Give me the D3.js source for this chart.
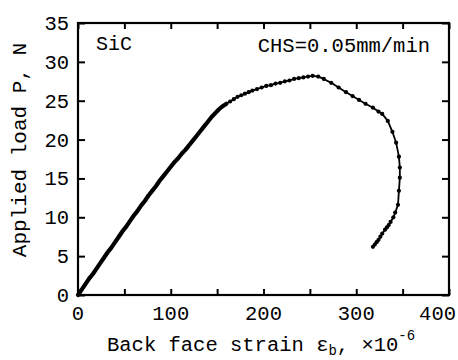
<html>
<head>
  <style>
    body { margin: 0; background: #fff; }
    svg text { font-family: "Liberation Mono", "Courier New", monospace; fill: #000; }
    svg .frame { fill: none; stroke: #000; stroke-width: 2.2px; }
    svg .tick line { stroke: #000; stroke-width: 2px; }
    svg .curve { fill: none; stroke: #000; stroke-width: 1.8px; stroke-linejoin: round; }
    svg .dense { fill: none; stroke: #000; stroke-width: 4.2px; stroke-linejoin: round; stroke-linecap: round; }
  </style>
</head>
<body>
  <div id="chart"></div>
  <script src="https://d3js.org/d3.v7.min.js"></script>
  <script>
    // load vs back face strain, SiC, CHS=0.05mm/min
    var strain = [0, 4, 8, 12, 16, 20, 24, 28, 32, 36, 40, 44, 48, 52, 56, 60, 64, 68, 72, 76,
      80, 84, 88, 92, 96, 100, 104, 108, 112, 116, 120, 124, 128, 132, 136, 140, 144, 148, 152, 156,
      160, 164, 168, 172, 176, 180, 184, 188, 193, 198, 203, 208, 213, 218, 223, 228, 233, 238, 243, 248,
      253, 259, 265, 273, 281, 289, 296, 303, 310, 318, 324, 328, 334, 339, 343, 346, 347, 347,
      346, 345, 342, 340, 337, 335, 333, 331, 328, 326, 324, 322, 320, 318];
    var load = [0, 0.7, 1.4, 2.1, 2.7, 3.4, 4.1, 4.8, 5.5, 6.1, 6.8, 7.5, 8.2, 8.8, 9.5, 10.2, 10.8, 11.5, 12.1, 12.8,
      13.4, 14.0, 14.7, 15.3, 15.9, 16.5, 17.1, 17.6, 18.2, 18.7, 19.3, 19.9, 20.5, 21.1, 21.7, 22.3, 22.9, 23.4, 23.9, 24.3,
      24.6, 24.9, 25.2, 25.5, 25.7, 25.9, 26.1, 26.3, 26.5, 26.7, 26.9, 27.0, 27.2, 27.3, 27.5, 27.6, 27.8, 27.9, 28.0, 28.1,
      28.2, 28.1, 27.8, 27.3, 26.7, 26.1, 25.6, 25.1, 24.6, 24.1, 23.6, 23.3, 22.4, 21.0, 19.6, 17.8, 16.4, 15.1,
      13.4, 11.6, 10.6, 10.0, 9.4, 9.0, 8.7, 8.4, 7.9, 7.5, 7.1, 6.8, 6.5, 6.2];

    var xTicks = [0, 100, 200, 300, 400];
    var xMinor = [0, 50, 100, 150, 200, 250, 300, 350, 400];
    var yTicks = [0, 5, 10, 15, 20, 25, 30, 35];

    var margin = { top: 23, left: 78 },
      width = 371,
      height = 272;

    var svg = d3.select("#chart").append("svg")
        .attr("width", 458)
        .attr("height", 360)
      .append("g")
        .attr("transform", "translate(" + margin.left + "," + margin.top + ")");

    var x = d3.scaleLinear().domain([0, 400]).range([0, width]);
    var y = d3.scaleLinear().domain([0, 35]).range([height, 0]);

    // inward ticks on all four sides
    svg.append("g").attr("transform", "translate(0," + height + ")")
      .call(d3.axisTop(x).tickValues(xMinor).tickSize(6).tickFormat(""))
      .call(function (g) { g.select(".domain").remove(); });
    svg.append("g")
      .call(d3.axisBottom(x).tickValues(xMinor).tickSize(6).tickFormat(""))
      .call(function (g) { g.select(".domain").remove(); });
    svg.append("g")
      .call(d3.axisRight(y).tickValues(yTicks).tickSize(7).tickFormat(""))
      .call(function (g) { g.select(".domain").remove(); });
    svg.append("g").attr("transform", "translate(" + width + ",0)")
      .call(d3.axisLeft(y).tickValues(yTicks).tickSize(7).tickFormat(""))
      .call(function (g) { g.select(".domain").remove(); });

    svg.append("rect").classed("frame", true)
      .attr("x", 0).attr("y", 0).attr("width", width).attr("height", height);

    // tick labels (last one pulled in so it stays inside the page)
    svg.selectAll(".xlab").data(xTicks).enter().append("text")
      .attr("x", function (d) { return d === 400 ? x(d) + 7 : x(d); })
      .attr("y", height + 25)
      .attr("text-anchor", function (d) { return d === 400 ? "end" : "middle"; })
      .style("font-size", "20.5px")
      .text(function (d) { return d; });

    svg.selectAll(".ylab").data(yTicks).enter().append("text")
      .attr("x", -9)
      .attr("y", function (d) { return y(d) + 7; })
      .attr("text-anchor", "end")
      .style("font-size", "20.5px")
      .text(function (d) { return d; });

    // curve + markers; the densely sampled linear part reads as a thick line
    var pts = strain.map(function (s, i) { return [s, load[i]]; });
    var line = d3.line()
      .x(function (d) { return x(d[0]); })
      .y(function (d) { return y(d[1]); });
    svg.append("path").classed("curve", true).attr("d", line(pts));
    svg.append("path").classed("dense", true).attr("d", line(pts.slice(0, 41)));
    svg.selectAll(".pt").data(pts.slice(41)).enter().append("circle")
      .attr("cx", function (d) { return x(d[0]); })
      .attr("cy", function (d) { return y(d[1]); })
      .attr("r", 2.1)
      .style("fill", "#000");

    // annotations
    svg.append("text").attr("x", 18).attr("y", 27)
      .style("font-size", "20px").text("SiC");
    svg.append("text").attr("x", 352).attr("y", 29)
      .attr("text-anchor", "end")
      .style("font-size", "20.5px").text("CHS=0.05mm/min");

    // axis titles
    var xt = svg.append("text")
      .attr("x", 29).attr("y", height + 56)
      .style("font-size", "20.5px");
    xt.append("tspan").text("Back face strain \u03b5");
    xt.append("tspan").attr("dy", 4).style("font-size", "14px").text("b");
    xt.append("tspan").attr("dy", -4).text(", \u00d710");
    xt.append("tspan").attr("dy", -11).style("font-size", "14px").text("-6");

    svg.append("text")
      .attr("transform", "translate(-52," + (height / 2 - 9) + ") rotate(-90)")
      .attr("text-anchor", "middle")
      .style("font-size", "21px")
      .text("Applied load P, N");
  </script>
</body>
</html>
